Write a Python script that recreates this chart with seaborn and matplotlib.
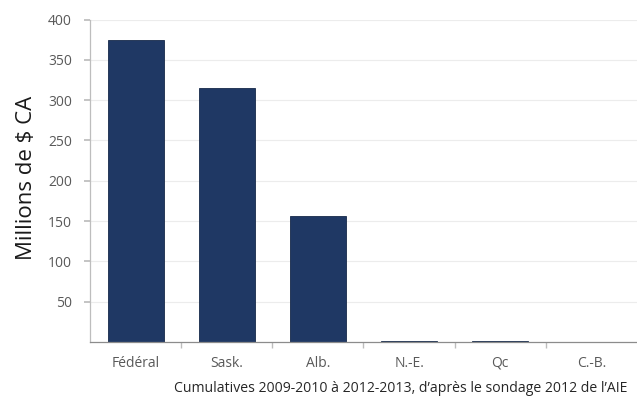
import matplotlib
matplotlib.use("Agg")
import matplotlib.pyplot as plt
import seaborn as sns
import pandas as pd

categories = ["Fédéral", "Sask.", "Alb.", "N.-E.", "Qc", "C.-B."]
values = [375, 315, 156, 1, 1, 0]
y_ticks = [50, 100, 150, 200, 250, 300, 350, 400]

sns.set_theme(style="white")
plt.rcParams["font.family"] = ["Open Sans", "DejaVu Sans"]

df = pd.DataFrame({"region": categories, "montant": values})

fig = plt.figure(figsize=(6.37, 3.97), dpi=100)
ax = fig.add_axes([90 / 637, 1 - 342 / 397, 547 / 637, (342 - 19.5) / 397])

sns.barplot(data=df, x="region", y="montant", color="#1F3864", width=0.615,
            saturation=1, ax=ax, edgecolor="#16294a", linewidth=0.6)

ax.set_xlim(-0.5, 5.5)
ax.set_ylim(0, 400)
ax.set_yticks(y_ticks)
ax.yaxis.grid(True, color="#ececec", linewidth=0.8)
ax.set_axisbelow(True)

for side in ["top", "right"]:
    ax.spines[side].set_visible(False)
ax.spines["left"].set_color("#bdbdbd")
ax.spines["bottom"].set_color("#8c8c8c")
ax.spines["left"].set_linewidth(0.9)
ax.spines["bottom"].set_linewidth(0.9)

ax.tick_params(axis="y", which="both", left=True, length=4, color="#bdbdbd",
               labelsize=10, labelcolor="#595959", pad=9)
ax.set_xticks(range(len(categories)))
ax.set_xticklabels(categories)
ax.tick_params(axis="x", which="major", bottom=False, labelsize=10,
               labelcolor="#595959", pad=4)
ax.set_xticks([i + 0.5 for i in range(len(categories) - 1)], minor=True)
ax.tick_params(axis="x", which="minor", bottom=True, length=4, color="#bdbdbd")

ax.set_xlabel("")
ax.set_ylabel("Millions de $ CA", fontsize=16, color="#1a1a1a")
ax.yaxis.set_label_coords(-0.097, 0.51)

fig.text(627 / 637, 1 - 389 / 397,
         "Cumulatives 2009-2010 à 2012-2013, d\u2019après le sondage 2012 de l\u2019AIE",
         ha="right", va="center", fontsize=10.1, color="#262626")

fig.savefig("out.png", dpi=100)
